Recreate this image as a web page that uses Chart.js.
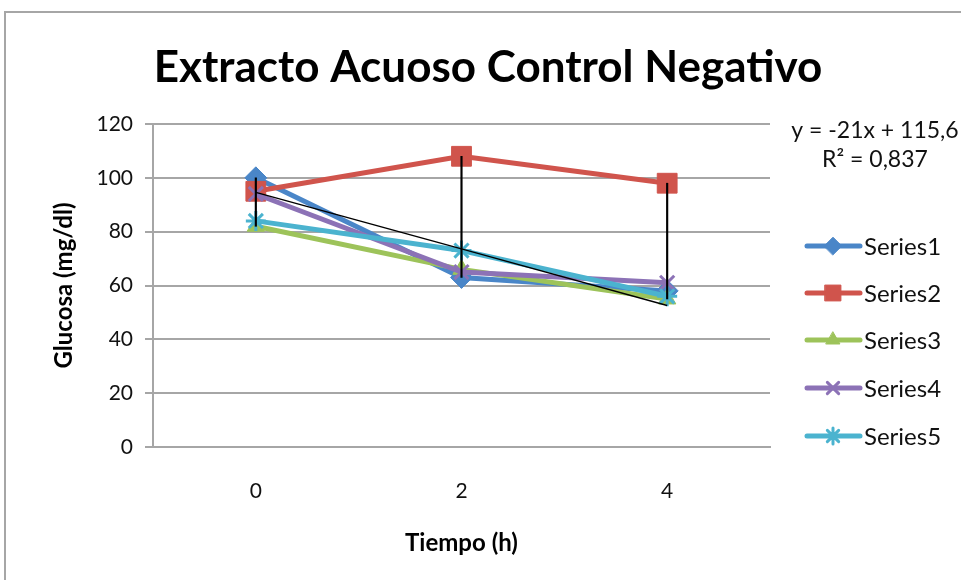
<!DOCTYPE html>
<html>
<head>
<meta charset="utf-8">
<title>Extracto Acuoso Control Negativo</title>
<script src="https://cdn.jsdelivr.net/npm/chart.js@4.4.1/dist/chart.umd.min.js"></script>
<style>
    html, body { margin: 0; padding: 0; background: #fff; }
    #wrap { width: 961px; height: 580px; }
</style>
</head>
<body>
<div id="wrap"><canvas id="glucose-chart" width="961" height="580"></canvas></div>
<script>
// Glucose readings (mg/dl) per time point
const timeLabels = ['0', '2', '4'];
const series1 = [100, 63, 58];
const series2 = [95, 108, 98];
const series3 = [82, 66, 55];
const series4 = [94, 65, 61];
const series5 = [84, 73, 56];

// Linear trend for Series1: y = -21x + 115,6 (x = 1, 2, 3)
const trendValues = [94.6, 73.6, 52.6];
const trendEquation = 'y = -21x + 115,6';
const trendR2 = 'R² = 0,837';

const yTicks = [0, 20, 40, 60, 80, 100, 120];

const FONT = 'Lato, "Open Sans", sans-serif';
const GRID = '#a6a6a6';

const seriesDefs = [
    { label: 'Series1', data: series1, color: '#4a86c8', style: 'rectRot', radius: 11 },
    { label: 'Series2', data: series2, color: '#d0544c', style: 'rect', radius: 14 },
    { label: 'Series3', data: series3, color: '#9dc35a', style: 'triangle', radius: 10 },
    { label: 'Series4', data: series4, color: '#8c72b6', style: 'crossRot', radius: 10 },
    { label: 'Series5', data: series5, color: '#4bb3cf', style: 'star', radius: 10 }
];

// high-low span across all series at each time point
const hiLow = timeLabels.map((_, i) => {
    const vals = seriesDefs.map(s => s.data[i]);
    return [Math.min(...vals), Math.max(...vals)];
});

const datasets = seriesDefs.map((s, i) => ({
    type: 'line',
    label: s.label,
    data: s.data,
    borderColor: s.color,
    backgroundColor: s.color,
    borderWidth: 5,
    pointStyle: s.style,
    pointRadius: s.radius,
    pointBorderWidth: (s.style === 'crossRot' || s.style === 'star') ? 3 : 1,
    pointBorderColor: s.color,
    pointBackgroundColor: s.color,
    tension: 0,
    order: seriesDefs.length - i
}));

datasets.push({
    type: 'bar',
    label: 'hilo',
    data: hiLow,
    backgroundColor: '#000',
    barThickness: 1.5,
    order: 0
});

datasets.push({
    type: 'line',
    label: 'trend',
    data: trendValues,
    borderColor: '#000',
    borderWidth: 1.5,
    pointRadius: 0,
    order: 0
});

// frame, title, equation and legend drawn straight on the canvas
const decorations = {
    id: 'decorations',
    beforeDraw(chart) {
        const ctx = chart.ctx;
        ctx.save();
        ctx.fillStyle = '#fff';
        ctx.fillRect(0, 0, chart.width, chart.height);
        ctx.strokeStyle = GRID;
        ctx.lineWidth = 2;
        ctx.strokeRect(5, 12, chart.width + 20, chart.height + 20);
        ctx.restore();
    },
    afterDraw(chart) {
        const ctx = chart.ctx;
        ctx.save();
        ctx.fillStyle = '#000';
        ctx.textAlign = 'center';
        ctx.textBaseline = 'middle';
        ctx.font = 'bold 44px ' + FONT;
        ctx.fillText('Extracto Acuoso Control Negativo', 488, 68);

        ctx.font = '23px ' + FONT;
        ctx.fillStyle = '#111';
        ctx.fillText(trendEquation, 875, 131);
        ctx.fillText(trendR2, 875, 160);

        // legend: line sample with marker
        const rowY = [246, 293, 340, 388, 436];
        seriesDefs.forEach((s, i) => {
            const y = rowY[i];
            ctx.strokeStyle = s.color;
            ctx.fillStyle = s.color;
            ctx.lineWidth = 5;
            ctx.lineCap = 'round';
            ctx.beginPath();
            ctx.moveTo(807, y);
            ctx.lineTo(860, y);
            ctx.stroke();
            ctx.lineWidth = (s.style === 'crossRot' || s.style === 'star') ? 3 : 1;
            Chart.helpers.drawPoint(ctx, {
                pointStyle: s.style,
                radius: s.radius * 0.8,
                rotation: 0,
                borderWidth: ctx.lineWidth
            }, 833, y);
            ctx.fillStyle = '#111';
            ctx.textAlign = 'left';
            ctx.font = '24px ' + FONT;
            ctx.fillText(s.label, 864, y + 1);
        });
        ctx.restore();
    }
};

new Chart(document.getElementById('glucose-chart'), {
    data: {
        labels: timeLabels,
        datasets: datasets
    },
    options: {
        responsive: false,
        animation: false,
        layout: {
            padding: { top: 124, right: 191, left: 0, bottom: 0 }
        },
        plugins: {
            legend: { display: false },
            title: { display: false },
            tooltip: { enabled: false }
        },
        scales: {
            x: {
                type: 'category',
                offset: true,
                grid: { display: false, drawTicks: false },
                border: { display: true, color: GRID, width: 2 },
                ticks: {
                    color: '#111',
                    font: { family: FONT, size: 21 },
                    padding: 32
                },
                title: {
                    display: true,
                    text: 'Tiempo (h)',
                    color: '#000',
                    font: { family: FONT, size: 24, weight: 'bold' },
                    padding: { top: 0, bottom: 22 }
                },
                afterFit(scale) { scale.height = 133; }
            },
            y: {
                min: 0,
                max: 120,
                afterBuildTicks(scale) {
                    scale.ticks = yTicks.map(v => ({ value: v }));
                },
                grid: { color: GRID, lineWidth: 2, tickLength: 8 },
                border: { display: true, color: GRID, width: 2 },
                ticks: {
                    color: '#111',
                    font: { family: FONT, size: 21 },
                    padding: 12
                },
                title: {
                    display: true,
                    text: 'Glucosa (mg/dl)',
                    color: '#000',
                    font: { family: FONT, size: 24, weight: 'bold' },
                    padding: { top: 50, bottom: 0 }
                },
                afterFit(scale) { scale.width = 153; }
            }
        }
    },
    plugins: [decorations]
});
</script>
</body>
</html>
